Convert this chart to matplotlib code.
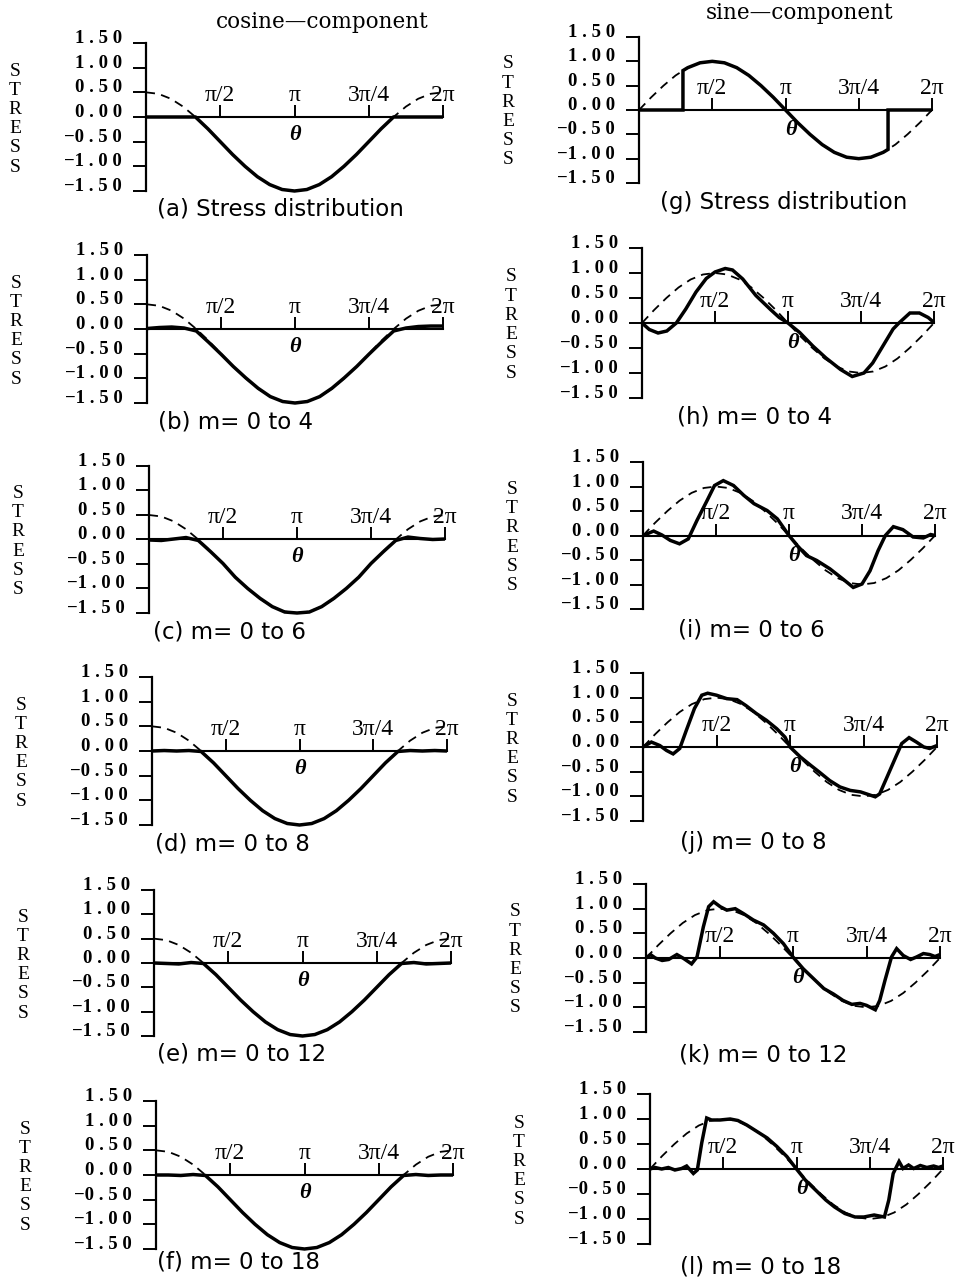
import matplotlib
matplotlib.use("Agg")
import matplotlib.pyplot as plt

# ---------------- data (theta in units of pi) ----------------
grid_t = [0, 0.083, 0.167, 0.25, 0.333, 0.417, 0.5, 0.583, 0.667, 0.75, 0.833, 0.917,
          1.0, 1.083, 1.167, 1.25, 1.333, 1.417, 1.5, 1.583, 1.667, 1.75, 1.833, 1.917, 2.0]

cos_ref_y = [0.50, 0.47, 0.37, 0.21, 0.00, -0.24, -0.50, -0.76, -1.00, -1.21, -1.37, -1.47,
             -1.50, -1.47, -1.37, -1.21, -1.00, -0.76, -0.50, -0.24, 0.00, 0.21, 0.37, 0.47, 0.50]
cos_a_y = [0, 0, 0, 0, 0, -0.24, -0.50, -0.76, -1.00, -1.21, -1.37, -1.47,
           -1.50, -1.47, -1.37, -1.21, -1.00, -0.76, -0.50, -0.24, 0, 0, 0, 0, 0]
cos_b_y = [0.01, 0.03, 0.04, 0.02, -0.04, -0.27, -0.51, -0.76, -0.99, -1.20, -1.37, -1.47,
           -1.50, -1.47, -1.37, -1.20, -0.99, -0.76, -0.51, -0.27, -0.04, 0.02, 0.05, 0.06, 0.06]
cos_c_y = [-0.01, -0.02, 0.01, 0.04, -0.02, -0.25, -0.49, -0.77, -1.00, -1.20, -1.37, -1.48,
           -1.50, -1.48, -1.37, -1.20, -1.00, -0.77, -0.49, -0.25, -0.02, 0.05, 0.02, 0.00, 0.01]
cos_d_y = [0.00, 0.01, 0.00, 0.01, -0.01, -0.24, -0.50, -0.76, -1.00, -1.21, -1.37, -1.47,
           -1.50, -1.47, -1.37, -1.21, -1.00, -0.76, -0.50, -0.24, -0.01, 0.01, 0.00, 0.01, 0.00]
cos_e_y = [0.00, -0.01, -0.02, 0.01, -0.01, -0.24, -0.50, -0.76, -1.00, -1.21, -1.37, -1.47,
           -1.50, -1.47, -1.37, -1.21, -1.00, -0.76, -0.50, -0.24, -0.01, 0.01, -0.02, -0.01, 0.00]
cos_f_y = [0.00, 0.00, -0.01, 0.01, -0.01, -0.24, -0.50, -0.76, -1.00, -1.21, -1.37, -1.47,
           -1.50, -1.47, -1.37, -1.21, -1.00, -0.76, -0.50, -0.24, -0.01, 0.01, -0.01, 0.00, 0.00]

sin_ref_y = [0, 0.26, 0.50, 0.71, 0.87, 0.97, 1.00, 0.97, 0.87, 0.71, 0.50, 0.26,
             0, -0.26, -0.50, -0.71, -0.87, -0.97, -1.00, -0.97, -0.87, -0.71, -0.50, -0.26, 0]

sin_g_t = [0, 0.30, 0.30, 0.333, 0.417, 0.5, 0.583, 0.667, 0.75, 0.833, 0.917, 1.0,
           1.083, 1.167, 1.25, 1.333, 1.417, 1.5, 1.583, 1.667, 1.70, 1.70, 2.0]
sin_g_y = [0, 0, 0.81, 0.87, 0.97, 1.0, 0.97, 0.87, 0.71, 0.50, 0.26, 0,
           -0.26, -0.50, -0.71, -0.87, -0.97, -1.0, -0.97, -0.87, -0.81, 0, 0]

sin_h_t = [0, 0.05, 0.11, 0.17, 0.235, 0.30, 0.37, 0.44, 0.50, 0.57, 0.62, 0.69, 0.78, 0.88, 0.94, 1.00,
           1.08, 1.17, 1.26, 1.36, 1.44, 1.52, 1.58, 1.65, 1.72, 1.76, 1.835, 1.90, 1.96, 2.00]
sin_h_y = [0, -0.13, -0.20, -0.16, 0, 0.28, 0.62, 0.89, 1.02, 1.09, 1.06, 0.88, 0.55, 0.27, 0.11, 0,
           -0.19, -0.46, -0.70, -0.93, -1.07, -1.00, -0.80, -0.46, -0.12, 0, 0.20, 0.20, 0.11, 0.01]

sin_i_t = [0, 0.073, 0.13, 0.187, 0.25, 0.31, 0.37, 0.44, 0.49, 0.55, 0.62, 0.69, 0.76, 0.85, 0.92, 0.96, 1.00,
           1.055, 1.12, 1.19, 1.28, 1.37, 1.44, 1.50, 1.555, 1.61, 1.66, 1.715, 1.78, 1.85, 1.92, 1.97, 2.00]
sin_i_y = [0, 0.09, 0.01, -0.10, -0.17, -0.07, 0.31, 0.72, 1.02, 1.12, 1.02, 0.82, 0.65, 0.51, 0.34, 0.17, 0,
           -0.20, -0.41, -0.51, -0.68, -0.89, -1.06, -0.99, -0.72, -0.31, 0, 0.18, 0.12, -0.03, -0.05, 0.02, 0]

sin_j_t = [0, 0.057, 0.114, 0.16, 0.205, 0.25, 0.295, 0.35, 0.40, 0.44, 0.50, 0.57, 0.64, 0.70, 0.77, 0.84,
           0.91, 0.966, 1.00, 1.07, 1.14, 1.20, 1.27, 1.34, 1.41, 1.48, 1.53, 1.58, 1.61, 1.66, 1.72, 1.76,
           1.81, 1.86, 1.91, 1.95, 2.00]
sin_j_y = [0, 0.10, 0.03, -0.07, -0.14, -0.03, 0.34, 0.78, 1.05, 1.09, 1.05, 0.98, 0.96, 0.84, 0.68, 0.54,
           0.37, 0.20, 0, -0.20, -0.37, -0.51, -0.68, -0.81, -0.88, -0.91, -0.96, -1.01, -0.95, -0.61, -0.20, 0.07,
           0.19, 0.10, 0, -0.03, 0.03]

sin_k_t = [0, 0.03, 0.063, 0.11, 0.154, 0.21, 0.256, 0.31, 0.347, 0.39, 0.426, 0.46, 0.505, 0.55, 0.607,
           0.663, 0.73, 0.80, 0.867, 0.935, 1.00, 1.07, 1.14, 1.21, 1.275, 1.34, 1.40, 1.456, 1.50, 1.56,
           1.59, 1.626, 1.67, 1.705, 1.75, 1.80, 1.84, 1.887, 1.93, 1.966, 2.00]
sin_k_y = [0, 0.07, 0.0, -0.05, -0.03, 0.07, -0.01, -0.12, 0.02, 0.63, 1.04, 1.14, 1.04, 0.97, 1.00,
           0.90, 0.77, 0.67, 0.50, 0.29, 0.02, -0.22, -0.42, -0.62, -0.73, -0.86, -0.94, -0.92, -0.96, -1.05,
           -0.86, -0.45, 0.02, 0.19, 0.05, -0.03, 0.02, 0.09, 0.07, 0.03, 0.07]

sin_l_t = [0, 0.034, 0.08, 0.125, 0.17, 0.216, 0.25, 0.296, 0.323, 0.353, 0.387, 0.42, 0.478, 0.547, 0.60,
           0.66, 0.73, 0.80, 0.866, 0.934, 1.00, 1.06, 1.13, 1.20, 1.26, 1.33, 1.40, 1.46, 1.53, 1.60,
           1.63, 1.66, 1.70, 1.727, 1.765, 1.80, 1.845, 1.89, 1.936, 1.97, 2.00]
sin_l_y = [0, 0.03, 0, 0.03, -0.02, 0.01, 0.06, -0.09, -0.02, 0.52, 1.02, 0.98, 0.98, 1.00, 0.97,
           0.88, 0.75, 0.62, 0.45, 0.25, 0, -0.22, -0.42, -0.62, -0.76, -0.89, -0.96, -0.96, -0.92, -0.96,
           -0.62, -0.09, 0.15, 0.01, 0.08, 0.01, 0.07, 0.03, 0.06, 0.03, 0.06]

xtick_pos = [0.5, 1.0, 1.5, 2.0]
xtick_labels = ["π/2", "π", "3π/4", "2π"]
ytick_pos = [1.5, 1.0, 0.5, 0.0, -0.5, -1.0, -1.5]
ytick_labels = ["1 . 5 0", "1 . 0 0", "0 . 5 0", "0 . 0 0", "−0 . 5 0", "−1 . 0 0", "−1 . 5 0"]

captions_cos = ["(a) Stress distribution", "(b) m= 0 to 4", "(c) m= 0 to 6",
                "(d) m= 0 to 8", "(e) m= 0 to 12", "(f) m= 0 to 18"]
captions_sin = ["(g) Stress distribution", "(h) m= 0 to 4", "(i) m= 0 to 6",
                "(j) m= 0 to 8", "(k) m= 0 to 12", "(l) m= 0 to 18"]

# ---------------- layout (pixels) ----------------
W, H = 958, 1283
cos_boxes = [(146, 443, 43, 191), (147, 443, 255, 403), (149, 445, 466, 613),
             (152, 447, 677, 825), (154, 451, 890, 1036), (156, 453, 1101, 1249)]
sin_boxes = [(639, 932, 37, 183), (642, 934, 248, 398), (643, 935, 462, 609),
             (643, 937, 673, 821), (646, 940, 884, 1032), (650, 943, 1094, 1244)]
cos_cap_pos = [(157, 209), (158, 422), (153, 632), (155, 844), (157, 1054), (157, 1262)]
sin_cap_pos = [(660, 202), (677, 417), (678, 630), (680, 842), (679, 1055), (680, 1267)]

SERIF = "Liberation Serif"

fig = plt.figure(figsize=(W / 100, H / 100), dpi=100)
fig.patch.set_facecolor("white")


def panel(box, ref_t, ref_y, sol_t, sol_y, theta_dx, theta_dy):
    x0, x1, yt, yb = box
    ax = fig.add_axes([x0 / W, 1 - yb / H, (x1 - x0) / W, (yb - yt) / H])
    ax.set_xlim(0, 2)
    ax.set_ylim(-1.5, 1.5)
    ax.patch.set_visible(False)
    ax.spines["right"].set_visible(False)
    ax.spines["bottom"].set_visible(False)
    ax.spines["top"].set_position(("data", 0))
    ax.spines["left"].set_linewidth(1.6)
    ax.spines["top"].set_linewidth(1.5)
    ax.xaxis.set_ticks_position("top")
    ax.set_xticks(xtick_pos, labels=xtick_labels)
    ax.tick_params(axis="x", direction="out", length=9, width=1.4, pad=-1,
                   labelsize=17, labelfontfamily=SERIF, labeltop=True, labelbottom=False)
    ax.set_yticks(ytick_pos, labels=ytick_labels, va="baseline", fontweight="bold")
    ax.tick_params(axis="y", direction="out", length=9.5, width=1.4, pad=8,
                   labelsize=13.5, labelfontfamily=SERIF)
    ax.plot(ref_t, ref_y, color="black", lw=1.3, ls=(0, (5, 3.5)), clip_on=False, zorder=2)
    ax.plot(sol_t, sol_y, color="black", lw=2.5, clip_on=False, zorder=3,
            solid_joinstyle="miter", solid_capstyle="butt")
    ax.annotate("θ", xy=(1.0, 0), xytext=(theta_dx, theta_dy), textcoords="offset pixels",
                ha="center", va="center", fontsize=16, fontstyle="italic",
                fontweight="bold", family=SERIF)
    # vertical STRESS label
    cx = x0 - 131
    cy = (yt + yb) / 2 + 2
    for i, ch in enumerate("STRESS"):
        fig.text(cx / W, 1 - (cy + (i - 2.5) * 19.2) / H, ch, ha="center", va="center",
                 fontsize=14, family=SERIF)
    return ax


cos_series = [cos_a_y, cos_b_y, cos_c_y, cos_d_y, cos_e_y, cos_f_y]
for box, y, cap, cp in zip(cos_boxes, cos_series, captions_cos, cos_cap_pos):
    panel(box, grid_t, cos_ref_y, grid_t, y, 0, -18)
    fig.text(cp[0] / W, 1 - cp[1] / H, cap, ha="left", va="center", fontsize=16.5,
             family="DejaVu Sans")

sin_series = [(sin_g_t, sin_g_y), (sin_h_t, sin_h_y), (sin_i_t, sin_i_y),
              (sin_j_t, sin_j_y), (sin_k_t, sin_k_y), (sin_l_t, sin_l_y)]
for box, (t, y), cap, cp in zip(sin_boxes, sin_series, captions_sin, sin_cap_pos):
    panel(box, grid_t, sin_ref_y, t, y, 5, -20)
    fig.text(cp[0] / W, 1 - cp[1] / H, cap, ha="left", va="center", fontsize=16.5,
             family="DejaVu Sans")

fig.text(322 / W, 1 - 22 / H, "cosine—component", ha="center", va="center",
         fontsize=15.5, family="DejaVu Serif")
fig.text(800 / W, 1 - 13 / H, "sine—component", ha="center", va="center",
         fontsize=15.5, family="DejaVu Serif")

fig.savefig("out.png", dpi=100, facecolor="white")
